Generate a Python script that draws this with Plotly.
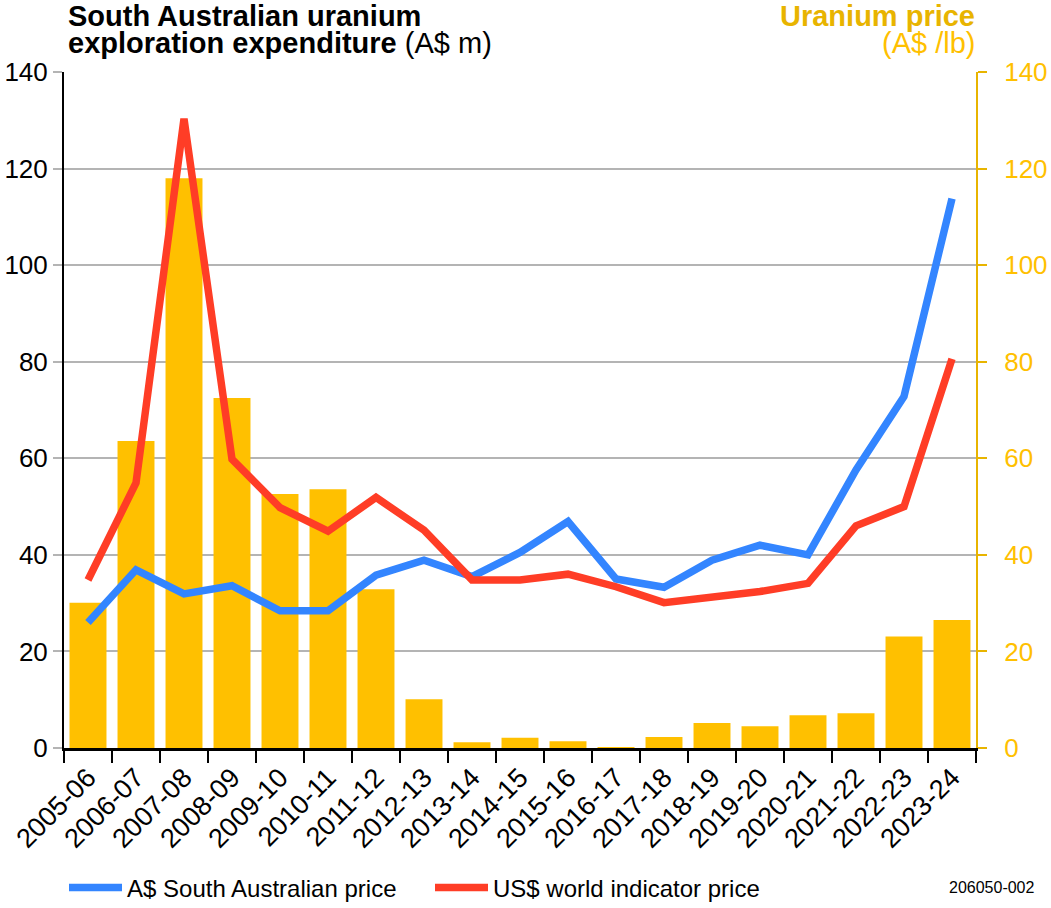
import plotly.graph_objects as go

years = ["2005-06", "2006-07", "2007-08", "2008-09", "2009-10", "2010-11", "2011-12",
         "2012-13", "2013-14", "2014-15", "2015-16", "2016-17", "2017-18", "2018-19",
         "2019-20", "2020-21", "2021-22", "2022-23", "2023-24"]
expenditure = [30.1, 63.6, 118.0, 72.5, 52.6, 53.6, 32.9, 10.1, 1.2, 2.1, 1.4, 0.2, 2.3,
               5.2, 4.5, 6.8, 7.2, 23.1, 26.5]
sa_price_aud = [26.0, 36.9, 31.9, 33.6, 28.4, 28.4, 35.8, 38.9, 35.5, 40.5, 46.9, 35.0,
                33.3, 38.9, 42.0, 40.0, 57.6, 72.8, 113.8]
world_price_usd = [34.8, 54.9, 130.3, 59.8, 49.8, 44.9, 51.9, 45.1, 34.8, 34.8, 36.0, 33.4,
                   30.1, 31.3, 32.4, 34.1, 46.0, 50.0, 80.6]
y_ticks = [0, 20, 40, 60, 80, 100, 120, 140]

FONT = "Liberation Sans, Arial, sans-serif"
GOLD = "#FFC000"
GOLD_DARK = "#E8B400"
BLUE = "#3385FF"
RED = "#FF3D26"

fig = go.Figure()
fig.add_trace(go.Bar(x=years, y=expenditure, marker=dict(color=GOLD, line=dict(width=0)),
                     showlegend=False, yaxis="y"))
fig.add_trace(go.Scatter(x=years, y=sa_price_aud, mode="lines", name="A$ South Australian price",
                         line=dict(color=BLUE, width=7.5), yaxis="y2"))
fig.add_trace(go.Scatter(x=years, y=world_price_usd, mode="lines", name="US$ world indicator price",
                         line=dict(color=RED, width=7.5), yaxis="y2"))

fig.update_layout(
    width=1051, height=908,
    margin=dict(l=64, r=75, t=72, b=160, autoexpand=False),
    paper_bgcolor="white", plot_bgcolor="white",
    font=dict(family=FONT, size=26, color="black"),
    bargap=0.23,
    xaxis=dict(type="category", tickson="boundaries", ticks="outside", ticklen=12,
               tickcolor="black", tickwidth=2, showline=True, linecolor="black", linewidth=3,
               tickangle=-45, tickfont=dict(size=27), showgrid=False),
    yaxis=dict(range=[0, 140], tickvals=y_ticks, showgrid=True, gridcolor="#B4B4B4",
               gridwidth=2, ticks="outside", ticklen=9, tickcolor="#B4B4B4", tickwidth=2,
               showline=True, linecolor="black", linewidth=2, zeroline=False,
               tickfont=dict(size=26, color="black")),
    yaxis2=dict(range=[0, 140], tickvals=y_ticks, overlaying="y", side="right", showgrid=False,
                ticks="outside", ticklen=9, tickcolor=GOLD_DARK, tickwidth=2, showline=True,
                linecolor=GOLD_DARK, linewidth=2, zeroline=False, ticklabelstandoff=12,
                tickfont=dict(size=26, color=GOLD)),
    legend=dict(orientation="h", x=0.0, xanchor="left", y=-0.207, yanchor="middle",
                font=dict(size=24), itemwidth=53, entrywidth=298, entrywidthmode="pixels",
                bgcolor="rgba(0,0,0,0)"),
    annotations=[
        dict(text="<b>South Australian uranium</b>", xref="paper", yref="paper",
             x=0.002, y=1.0829, xanchor="left", yanchor="middle", showarrow=False,
             font=dict(size=29, color="black")),
        dict(text="<b>exploration expenditure</b> (A$ m)", xref="paper", yref="paper",
             x=0.002, y=1.0429, xanchor="left", yanchor="middle", showarrow=False,
             font=dict(size=29, color="black")),
        dict(text="<b>Uranium price</b>", xref="paper", yref="paper",
             x=1.001, y=1.0829, xanchor="right", yanchor="middle", showarrow=False,
             font=dict(size=29, color=GOLD_DARK)),
        dict(text="(A$ /lb)", xref="paper", yref="paper",
             x=1.001, y=1.0429, xanchor="right", yanchor="middle", showarrow=False,
             font=dict(size=29, color=GOLD)),
        dict(text="206050-002", xref="paper", yref="paper",
             x=(1037 - 64) / 912, y=-0.207, xanchor="right", yanchor="middle", showarrow=False,
             font=dict(size=16, color="black")),
    ],
)

fig.write_html("out.html")
